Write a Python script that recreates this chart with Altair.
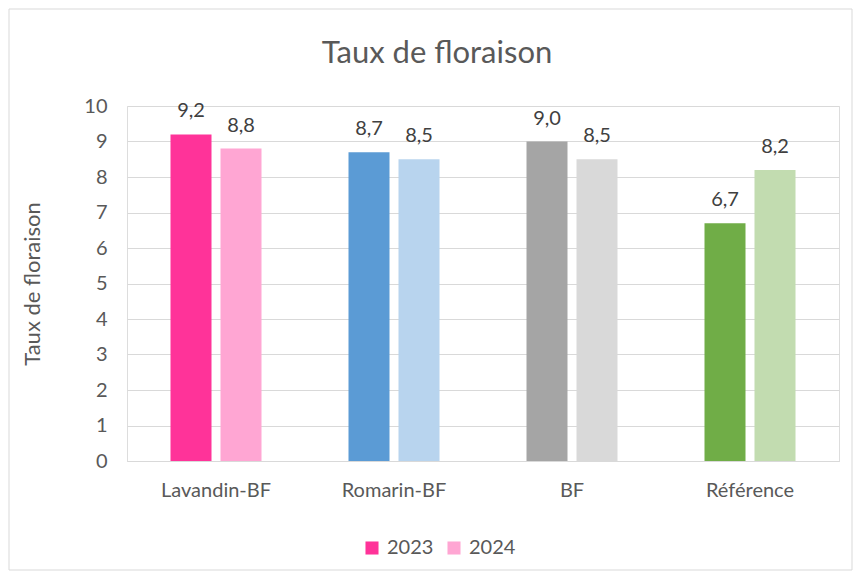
import altair as alt
import pandas as pd

categories = ["Lavandin-BF", "Romarin-BF", "BF", "Référence"]
years = ["2023", "2024"]
values_2023 = [9.2, 8.7, 9.0, 6.7]
values_2024 = [8.8, 8.5, 8.5, 8.2]
solid_colors = ["#FF3399", "#5B9BD5", "#A5A5A5", "#70AD47"]
tint_colors = ["#FFA6D3", "#B8D4EE", "#D9D9D9", "#C2DCB0"]
y_ticks = list(range(0, 11))
chart_title = "Taux de floraison"

rows = []
for i, c in enumerate(categories):
    for y, v in zip(years, [values_2023[i], values_2024[i]]):
        rows.append({"cat": c, "year": y, "value": v, "key": f"{c}|{y}",
                     "label": f"{v:.1f}".replace(".", ",")})
df = pd.DataFrame(rows)
key_domain = [f"{c}|{y}" for c in categories for y in years]
key_range = []
for s, t in zip(solid_colors, tint_colors):
    key_range += [s, t]

FONT = "Lato"
GREY = "#595959"

x_enc = alt.X("cat:N", sort=categories,
              scale=alt.Scale(paddingInner=0, paddingOuter=0),
              axis=alt.Axis(title=None, labelAngle=0, labelFontSize=20, labelColor=GREY,
                            labelFont=FONT, labelPadding=19, ticks=False, domain=True,
                            domainColor="#D9D9D9", domainWidth=1, grid=False))
xo_enc = alt.XOffset("year:N", sort=years,
                     scale=alt.Scale(paddingInner=0.18, paddingOuter=0.87))
y_enc = alt.Y("value:Q", scale=alt.Scale(domain=[0, 10], nice=False),
              axis=alt.Axis(values=y_ticks, title="Taux de floraison", titleFontSize=22,
                            titleFont=FONT, titleFontWeight="normal", titleColor=GREY,
                            titlePadding=39, labelFontSize=20, labelColor=GREY, labelFont=FONT,
                            labelPadding=20, ticks=False, domain=False, grid=True,
                            gridColor="#D9D9D9", gridWidth=1, labelOverlap=False))

base = alt.Chart(df)

bars = base.mark_bar().encode(
    x=x_enc, xOffset=xo_enc, y=y_enc,
    color=alt.Color("key:N", scale=alt.Scale(domain=key_domain, range=key_range), legend=None),
)

labels = base.mark_text(baseline="bottom", dy=-13, fontSize=20, font=FONT, color="#404040").encode(
    x=x_enc, xOffset=xo_enc, y=y_enc, text="label:N",
)

legend_layer = base.mark_square(opacity=0).encode(
    x=x_enc, y=y_enc,
    color=alt.Color("year:N", scale=alt.Scale(domain=years, range=["#FF3399", "#FFA6D3"]),
                    legend=alt.Legend(orient="none", legendX=235, legendY=432, direction="horizontal",
                                      title=None, symbolType="square", symbolSize=170,
                                      symbolOpacity=1, symbolStrokeWidth=0, labelFontSize=20,
                                      labelFont=FONT, labelColor=GREY, labelOffset=5,
                                      columnPadding=10)),
)

border = alt.Chart(pd.DataFrame({"a": [0]})).mark_rect(fill="transparent", stroke="#D9D9D9", strokeWidth=1).encode(
    x=alt.value(-118), x2=alt.value(725), y=alt.value(-97), y2=alt.value(464),
)

title_mark = alt.Chart(pd.DataFrame({"t": [chart_title]})).mark_text(
    fontSize=31, font=FONT, color=GREY, baseline="middle", align="center"
).encode(x=alt.value(310), y=alt.value(-52), text="t:N")

chart = alt.layer(border, bars, labels, legend_layer, title_mark).resolve_scale(color="independent").properties(
    width=712, height=355,
    autosize=alt.AutoSizeParams(type="none"),
    padding={"left": 119, "top": 98, "right": 14, "bottom": 110},
).configure_view(stroke=None).configure(background="white")

chart.save("out.html", embed_options={"renderer": "svg", "actions": False})
